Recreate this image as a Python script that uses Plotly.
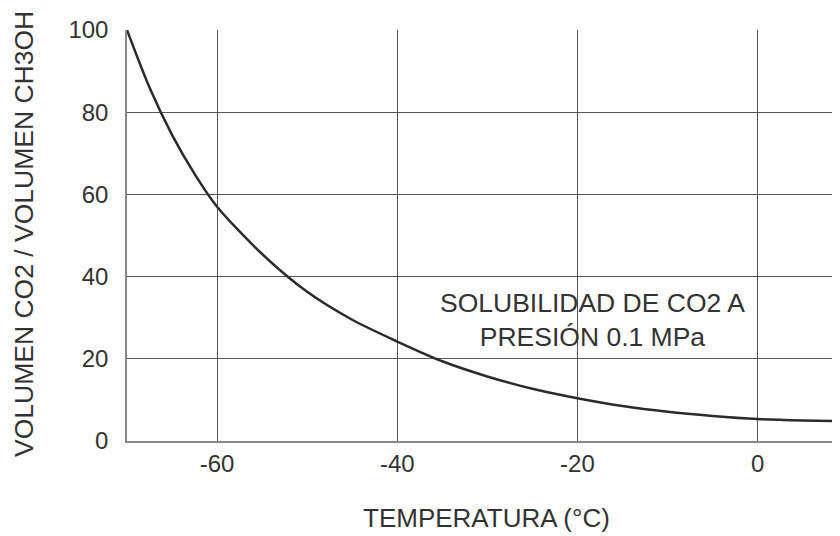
import plotly.graph_objects as go

# Temperature (°C) and solubility (volume CO2 / volume CH3OH)
temperatura = [-70, -67.5, -65, -62.5, -60, -55, -50, -45, -40, -35, -30,
               -25, -20, -15, -10, -5, 0, 5, 9.2]
solubilidad = [100, 86, 74.5, 65, 57, 45.5, 36.3, 29.5, 24.2, 19.4, 15.7,
               12.7, 10.4, 8.5, 7.1, 6.1, 5.35, 5.0, 4.85]

x_tickvals = [-60, -40, -20, 0]
x_ticktext = ["-60", "-40", "-20", "0"]
y_tickvals = [0, 20, 40, 60, 80, 100]
y_ticktext = ["0", "20", "40", "60", "80", "100"]

font_family = "Liberation Sans, Arial, sans-serif"
text_color = "#333333"

fig = go.Figure()
fig.add_trace(go.Scatter(
    x=temperatura, y=solubilidad, mode="lines",
    line=dict(color="#2b2b2b", width=2.5, shape="spline", smoothing=0.8),
    hoverinfo="skip", showlegend=False,
))

# page body has an 8px default margin, so the figure is sized 832x528
fig.update_layout(
    width=832, height=528,
    margin=dict(l=119, r=0, t=22, b=95),
    paper_bgcolor="white", plot_bgcolor="white",
    font=dict(family=font_family, color=text_color),
    xaxis=dict(
        range=[-70, 9.15], tickvals=x_tickvals, ticktext=x_ticktext,
        showgrid=True, gridcolor="#555555", gridwidth=1,
        zeroline=False, showline=True, linecolor="#888888", linewidth=1.5,
        ticks="", tickfont=dict(size=24, color=text_color), automargin=False,
    ),
    yaxis=dict(
        range=[0, 100], tickvals=y_tickvals, ticktext=y_ticktext,
        showgrid=True, gridcolor="#555555", gridwidth=1,
        zeroline=False, showline=True, linecolor="#888888", linewidth=1.5,
        ticks="", ticklabelstandoff=12, tickfont=dict(size=24, color=text_color),
        automargin=False,
    ),
    annotations=[
        dict(text="VOLUMEN CO2 / VOLUMEN CH3OH", textangle=-90,
             xref="paper", yref="paper", x=0, y=0.5, xanchor="center", yanchor="middle",
             xshift=-103.5, yshift=1, showarrow=False,
             font=dict(size=26.5, color=text_color)),
        dict(text="TEMPERATURA (°C)",
             xref="paper", yref="paper", x=0.5, y=0, xanchor="center", yanchor="middle",
             xshift=3, yshift=-77, showarrow=False,
             font=dict(size=26, color=text_color)),
        dict(text="SOLUBILIDAD DE CO2 A<br>PRESIÓN 0.1 MPa",
             xref="x", yref="y", x=-18.3, y=29.4, xanchor="center", yanchor="middle",
             showarrow=False, align="center",
             font=dict(size=26.5, color=text_color)),
    ],
)

fig.write_html("out.html")
